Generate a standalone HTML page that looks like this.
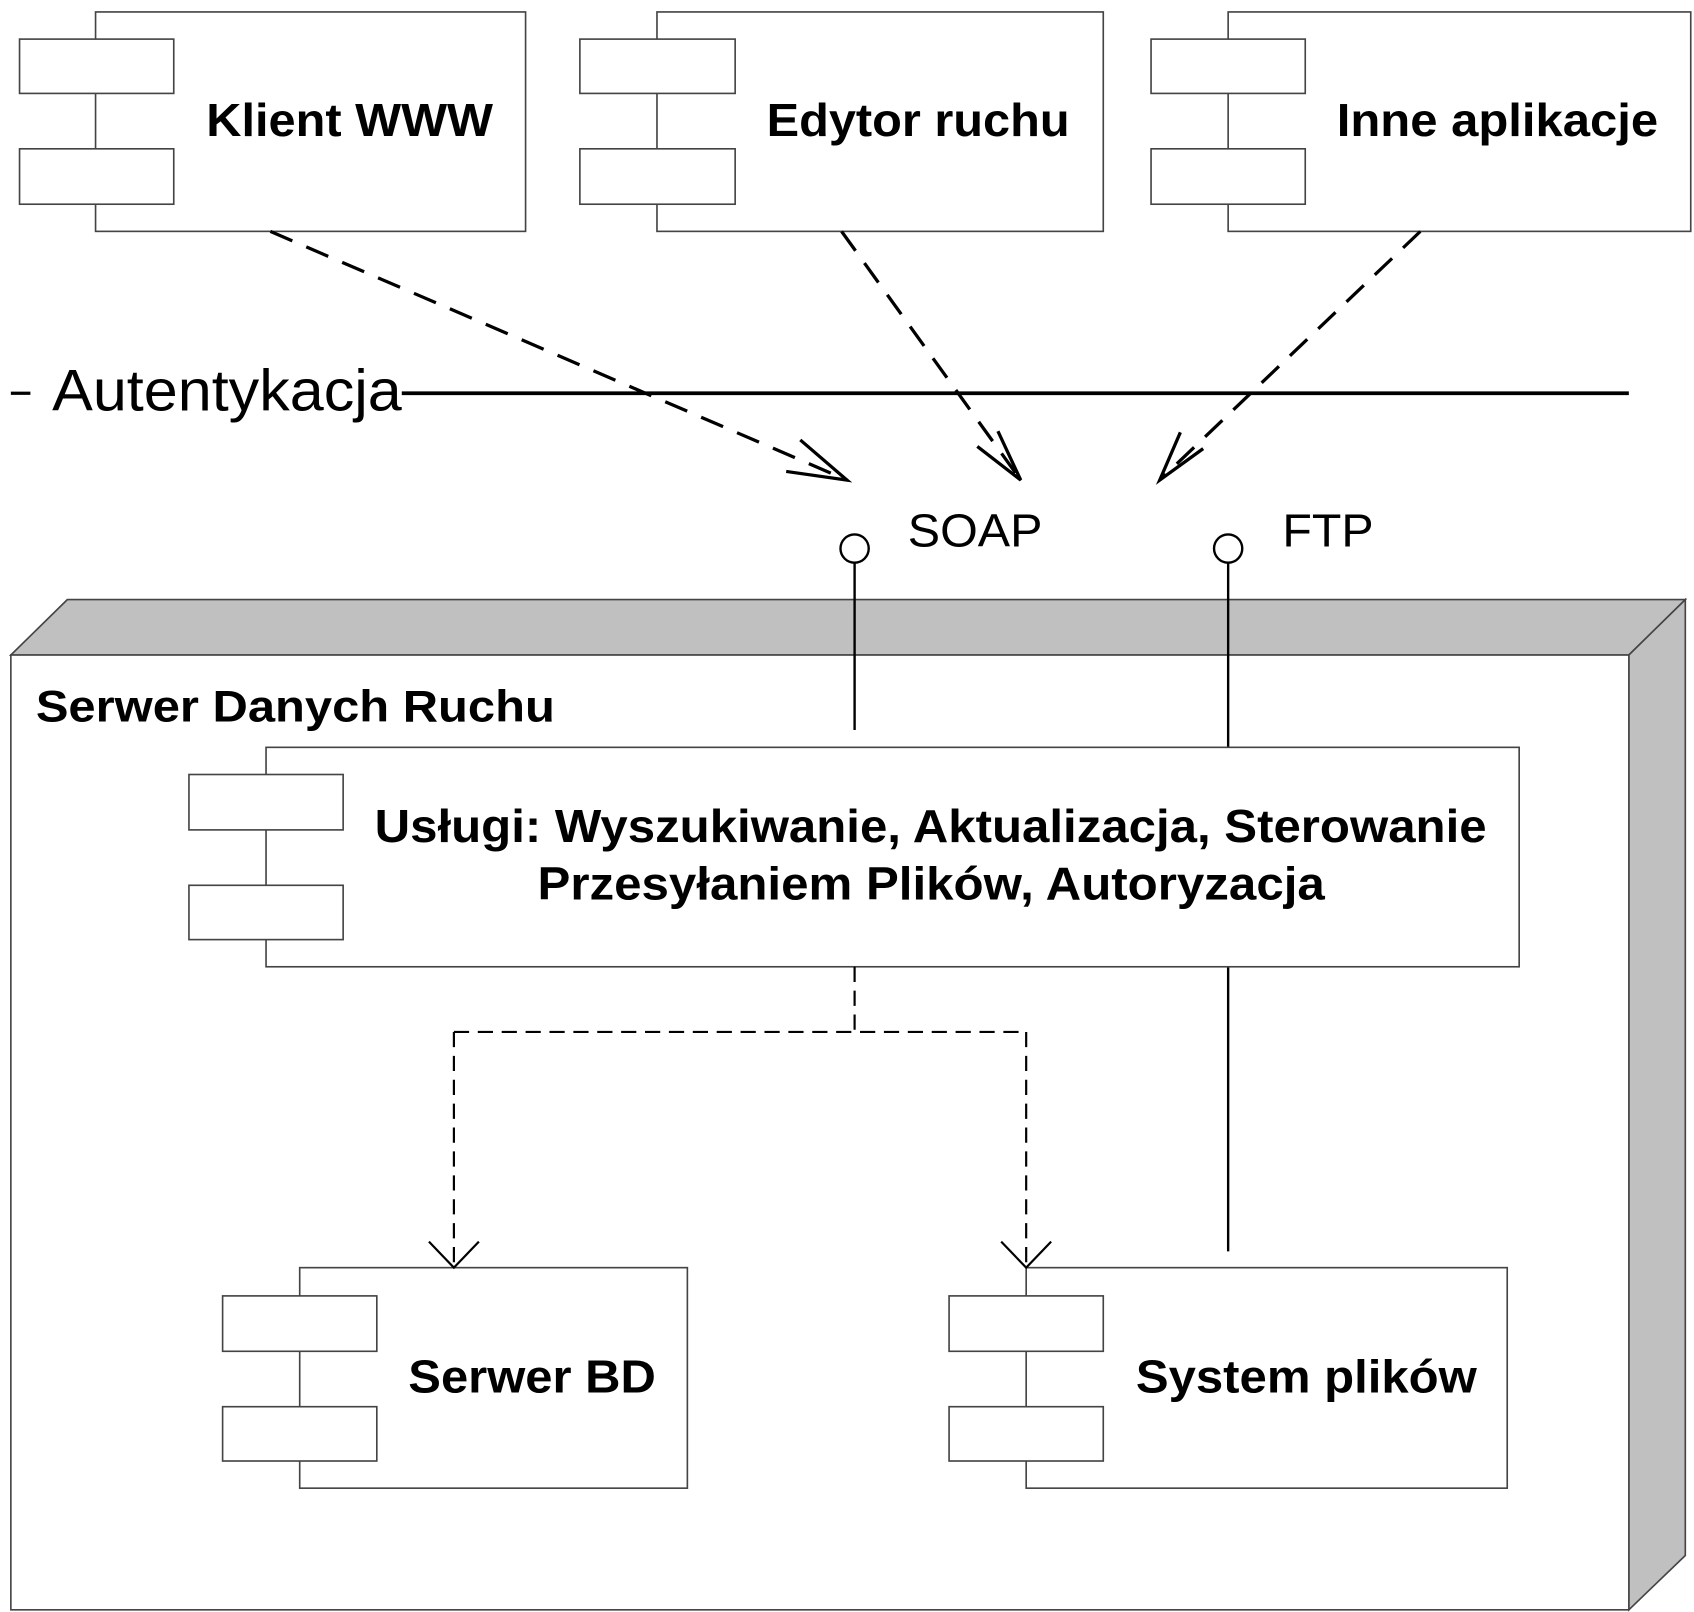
<!DOCTYPE html>
<html><head><meta charset="utf-8"><style>html,body{margin:0;padding:0;background:#fff}svg{display:block}</style></head><body>
<svg width="1694" height="1612" viewBox="0 0 1560 1484" preserveAspectRatio="none" xmlns="http://www.w3.org/2000/svg" font-family="Liberation Sans, Arial, sans-serif">
<g fill="#fff" stroke="#444" stroke-width="1.5">
<rect x="88" y="11" width="396" height="202"/>
<rect x="18" y="36" width="142" height="50"/><rect x="18" y="137" width="142" height="51"/>
<rect x="605" y="11" width="411" height="202"/>
<rect x="534" y="36" width="143" height="50"/><rect x="534" y="137" width="143" height="51"/>
<rect x="1131" y="11" width="426" height="202"/>
<rect x="1060" y="36" width="142" height="50"/><rect x="1060" y="137" width="142" height="51"/>
</g>
<g font-weight="bold" font-size="43" fill="#000" lengthAdjust="spacingAndGlyphs">
<text x="190" y="125" textLength="264" lengthAdjust="spacingAndGlyphs">Klient WWW</text>
<text x="706" y="125" textLength="279" lengthAdjust="spacingAndGlyphs">Edytor ruchu</text>
<text x="1231" y="125" textLength="296" lengthAdjust="spacingAndGlyphs">Inne aplikacje</text>
</g>
<g stroke="#000" stroke-width="3" fill="none">
<path d="M249 213 L780 442" stroke-dasharray="22 14"/>
<path d="M775 213 L940 442" stroke-dasharray="22 14"/>
<path d="M1308 213 L1068 442" stroke-dasharray="22 14"/>
<path d="M737 405 L780 442 L724 434"/>
<path d="M919 397 L940 442 L900 411"/>
<path d="M1087 398 L1068 442 L1108 413"/>
<line x1="10" y1="362" x2="28" y2="362"/>
<line x1="370" y1="362" x2="1500" y2="362" stroke-width="3.5"/>
</g>
<text x="48" y="378" font-size="54" fill="#000" textLength="322" lengthAdjust="spacingAndGlyphs">Autentykacja</text>
<polygon points="10,603 62,552 1552,552 1500,603" fill="#c0c0c0" stroke="#444" stroke-width="1.5"/>
<polygon points="1500,603 1552,552 1552,1432 1500,1482" fill="#c0c0c0" stroke="#444" stroke-width="1.5"/>
<rect x="10" y="603" width="1490" height="879" fill="#fff" stroke="#444" stroke-width="1.5"/>
<text x="33" y="664" font-size="41" font-weight="bold" fill="#000" textLength="478" lengthAdjust="spacingAndGlyphs">Serwer Danych Ruchu</text>
<g stroke="#000" stroke-width="2.2" fill="none">
<circle cx="787" cy="505" r="13" fill="#fff"/>
<circle cx="1131" cy="505" r="13" fill="#fff"/>
<line x1="787" y1="518" x2="787" y2="672"/>
<line x1="1131" y1="518" x2="1131" y2="688"/>
<line x1="1131" y1="890" x2="1131" y2="1152"/>
</g>
<g font-size="43" fill="#000"><text x="836" y="503" textLength="124" lengthAdjust="spacingAndGlyphs">SOAP</text><text x="1181" y="503" textLength="84" lengthAdjust="spacingAndGlyphs">FTP</text></g>
<g fill="#fff" stroke="#444" stroke-width="1.5">
<rect x="245" y="688" width="1154" height="202"/>
<rect x="174" y="713" width="142" height="51"/><rect x="174" y="815" width="142" height="50"/>
<rect x="276" y="1167" width="357" height="203"/>
<rect x="205" y="1193" width="142" height="51"/><rect x="205" y="1295" width="142" height="50"/>
<rect x="945" y="1167" width="443" height="203"/>
<rect x="874" y="1193" width="142" height="51"/><rect x="874" y="1295" width="142" height="50"/>
</g>
<g font-weight="bold" font-size="43" fill="#000">
<text x="345" y="775" textLength="1024" lengthAdjust="spacingAndGlyphs">Usługi: Wyszukiwanie, Aktualizacja, Sterowanie</text>
<text x="495" y="828" textLength="725" lengthAdjust="spacingAndGlyphs">Przesyłaniem Plików, Autoryzacja</text>
<text x="376" y="1282" textLength="228" lengthAdjust="spacingAndGlyphs">Serwer BD</text>
<text x="1046" y="1282" textLength="314" lengthAdjust="spacingAndGlyphs">System plików</text>
</g>
<g stroke="#000" stroke-width="2" fill="none">
<path d="M787 890 V950 M418 950 H945 M418 950 V1167 M945 950 V1167" stroke-dasharray="14 8"/>
<path d="M395 1143 L418 1167 L441 1143"/>
<path d="M922 1143 L945 1167 L968 1143"/>
</g>
</svg>
</body></html>
